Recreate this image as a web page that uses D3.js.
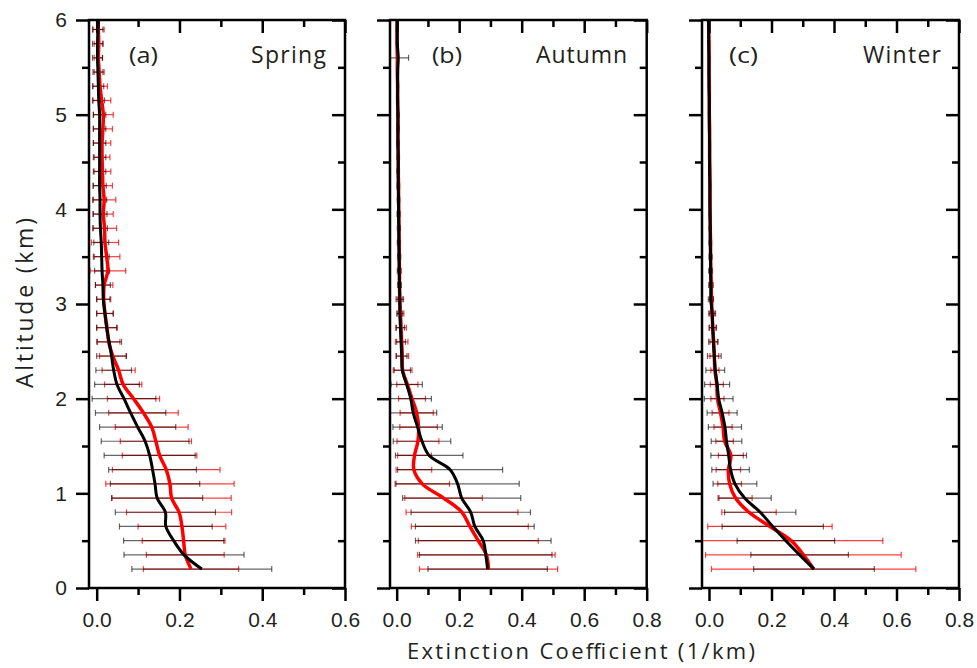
<!DOCTYPE html>
<html>
<head>
<meta charset="utf-8">
<script src="https://cdn.jsdelivr.net/npm/d3@7"></script>
<style>
    html, body { margin: 0; padding: 0; background: #fff; }
    svg { display: block; font-family: "Open Sans", "Liberation Sans", sans-serif; }
</style>
</head>
<body>
<div id="chart"></div>
<script>
// Altitudes (km) des profils ; la dernière valeur (6.0) n'a pas de barre d'erreur
const altitude = [0.20, 0.35, 0.50, 0.65, 0.80, 0.95, 1.10, 1.25, 1.40, 1.55,
    1.70, 1.85, 2.00, 2.15, 2.30, 2.45, 2.60, 2.75, 2.90, 3.05,
    3.20, 3.35, 3.50, 3.65, 3.80, 3.95, 4.10, 4.25, 4.40, 4.55,
    4.70, 4.85, 5.00, 5.15, 5.30, 5.45, 5.60, 5.75, 5.90, 6.00];

// (a) Spring
const springBlack = [0.254, 0.211, 0.186, 0.167, 0.166, 0.146, 0.141, 0.135, 0.128, 0.117,
    0.099, 0.082, 0.066, 0.049, 0.041, 0.036, 0.030, 0.024, 0.020, 0.016,
    0.015, 0.013, 0.012, 0.011, 0.009, 0.008, 0.008, 0.007, 0.007, 0.007,
    0.007, 0.007, 0.007, 0.005, 0.004, 0.003, 0.002, 0.002, 0.003, 0.004];
const springBlackSd = [0.169, 0.145, 0.121, 0.112, 0.121, 0.110, 0.108, 0.106, 0.110, 0.106,
    0.092, 0.085, 0.077, 0.054, 0.043, 0.036, 0.030, 0.024, 0.020, 0.016,
    0.018, 0.018, 0.018, 0.018, 0.017, 0.017, 0.016, 0.016, 0.015, 0.015,
    0.015, 0.015, 0.015, 0.014, 0.013, 0.012, 0.012, 0.012, 0.012, null];
const springRed = [0.228, 0.214, 0.210, 0.206, 0.199, 0.181, 0.177, 0.168, 0.152, 0.143,
    0.133, 0.113, 0.089, 0.064, 0.053, 0.039, 0.029, 0.025, 0.020, 0.017,
    0.018, 0.027, 0.024, 0.020, 0.019, 0.016, 0.018, 0.015, 0.014, 0.013,
    0.013, 0.015, 0.016, 0.012, 0.008, 0.006, 0.004, 0.005, 0.004, 0.004];
const springRedSd = [0.115, 0.094, 0.100, 0.106, 0.127, 0.144, 0.155, 0.130, 0.090, 0.086,
    0.088, 0.084, 0.063, 0.045, 0.040, 0.032, 0.027, 0.025, 0.020, 0.017,
    0.021, 0.043, 0.032, 0.033, 0.029, 0.024, 0.028, 0.023, 0.020, 0.019,
    0.021, 0.023, 0.024, 0.022, 0.018, 0.012, 0.010, 0.011, 0.014, null];

// (b) Autumn
const autumnBlack = [0.291, 0.285, 0.277, 0.250, 0.237, 0.208, 0.195, 0.171, 0.104, 0.081,
    0.067, 0.053, 0.045, 0.032, 0.018, 0.016, 0.014, 0.012, 0.010, 0.010,
    0.009, 0.008, 0.008, 0.007, 0.007, 0.006, 0.006, 0.005, 0.005, 0.005,
    0.004, 0.004, 0.004, 0.003, 0.003, 0.003, 0.005, 0.002, 0.002, 0.002];
const autumnBlackSd = [0.191, 0.212, 0.217, 0.190, 0.191, 0.189, 0.197, 0.168, 0.108, 0.092,
    0.079, 0.075, 0.066, 0.050, 0.026, 0.017, 0.014, 0.013, 0.009, 0.012,
    0.006, 0.006, 0.005, 0.005, 0.005, 0.005, 0.004, 0.004, 0.004, 0.004,
    0.004, 0.004, 0.004, 0.003, 0.003, 0.003, 0.033, 0.003, 0.003, null];
const autumnRed = [0.294, 0.287, 0.261, 0.234, 0.209, 0.150, 0.082, 0.055, 0.057, 0.068,
    0.070, 0.064, 0.049, 0.034, 0.019, 0.018, 0.016, 0.014, 0.012, 0.010,
    0.009, 0.009, 0.008, 0.008, 0.007, 0.007, 0.006, 0.006, 0.005, 0.005,
    0.004, 0.004, 0.004, 0.003, 0.003, 0.002, 0.002, 0.001, 0.001, 0.001];
const autumnRedSd = [0.221, 0.220, 0.192, 0.187, 0.179, 0.124, 0.087, 0.057, 0.054, 0.067,
    0.060, 0.053, 0.043, 0.034, 0.030, 0.020, 0.020, 0.017, 0.011, 0.008,
    0.004, 0.004, 0.004, 0.004, 0.003, 0.003, 0.003, 0.003, 0.003, 0.003,
    0.003, 0.003, 0.002, 0.002, 0.002, 0.002, 0.002, 0.002, 0.002, null];

// (c) Winter
const winterBlack = [0.336, 0.290, 0.246, 0.204, 0.164, 0.114, 0.083, 0.069, 0.063, 0.056,
    0.051, 0.042, 0.031, 0.026, 0.020, 0.017, 0.014, 0.012, 0.010, 0.006,
    0.006, 0.005, 0.005, 0.004, 0.004, 0.003, 0.003, 0.003, 0.002, 0.002,
    0.002, 0.001, 0.001, 0.001, 0.000, 0.000, 0.000, -0.001, -0.001, -0.002];
const winterBlackSd = [0.193, 0.156, 0.156, 0.162, 0.114, 0.085, 0.070, 0.060, 0.057, 0.049,
    0.053, 0.048, 0.046, 0.040, 0.030, 0.022, 0.015, 0.012, 0.011, 0.008,
    0.007, 0.006, 0.005, 0.004, 0.003, 0.002, 0.002, 0.002, 0.002, 0.002,
    0.002, 0.002, 0.002, 0.002, 0.002, 0.002, 0.002, 0.002, 0.002, null];
const winterRed = [0.335, 0.302, 0.263, 0.195, 0.128, 0.085, 0.066, 0.062, 0.070, 0.050,
    0.045, 0.037, 0.027, 0.025, 0.019, 0.017, 0.015, 0.012, 0.010, 0.008,
    0.007, 0.006, 0.005, 0.005, 0.004, 0.004, 0.003, 0.003, 0.003, 0.002,
    0.002, 0.002, 0.001, 0.001, 0.001, 0.000, 0.000, 0.000, -0.001, -0.001];
const winterRedSd = [0.327, 0.313, 0.293, 0.199, 0.087, 0.053, 0.038, 0.039, 0.040, 0.028,
    0.029, 0.027, 0.021, 0.021, 0.013, 0.014, 0.012, 0.010, 0.008, 0.006,
    0.005, 0.004, 0.003, 0.003, 0.003, 0.002, 0.002, 0.002, 0.002, 0.002,
    0.002, 0.002, 0.002, 0.002, 0.002, 0.002, 0.002, 0.002, 0.002, null];

// Graduations
const yTicks = [0, 1, 2, 3, 4, 5, 6];
const yMinorTicks = [0.5, 1.5, 2.5, 3.5, 4.5, 5.5];
const xTicksShort = [0.0, 0.2, 0.4, 0.6];
const xMinorShort = [0.1, 0.3, 0.5];
const xTicksLong = [0.0, 0.2, 0.4, 0.6, 0.8];
const xMinorLong = [0.1, 0.3, 0.5, 0.7];

const tags = ["(a)", "(b)", "(c)"];
const seasons = ["Spring", "Autumn", "Winter"];

const CONFIG = {
    width: 977,
    height: 668,
    top: 20,
    bottom: 588,
    majorTick: 13,
    minorTick: 7,
    textColor: "#231f20"
};

// Mise en page des trois panneaux
const LAYOUT = [
    { left: 89, right: 345, xMin: -0.0186, xMax: 0.6, ticks: xTicksShort, minor: xMinorShort,
      tagX: 129, tagW: 29, seasonEnd: 326, seasonW: 75, yLabels: true },
    { left: 390, right: 646.7, xMin: -0.0214, xMax: 0.8, ticks: xTicksLong, minor: xMinorLong,
      tagX: 432, tagW: 30, seasonEnd: 627, seasonW: 91, yLabels: false },
    { left: 702, right: 959, xMin: -0.0224, xMax: 0.8, ticks: xTicksLong, minor: xMinorLong,
      tagX: 729, tagW: 29, seasonEnd: 941, seasonW: 78, yLabels: false }
];

const SERIES = [
    { black: springBlack, blackSd: springBlackSd, red: springRed, redSd: springRedSd },
    { black: autumnBlack, blackSd: autumnBlackSd, red: autumnRed, redSd: autumnRedSd },
    { black: winterBlack, blackSd: winterBlackSd, red: winterRed, redSd: winterRedSd }
];

const svg = d3.select("#chart").append("svg")
    .attr("width", CONFIG.width)
    .attr("height", CONFIG.height);

const y = d3.scaleLinear().domain([0, 6]).range([CONFIG.bottom, CONFIG.top]);

function styleAxis(g) {
    g.select(".domain").remove();
    g.selectAll(".tick line").attr("stroke", "#000").attr("stroke-width", 2.5);
    g.selectAll(".tick text")
        .attr("fill", CONFIG.textColor)
        .attr("font-size", 21);
}

LAYOUT.forEach((L, i) => {
    const S = SERIES[i];
    const g = svg.append("g");
    const x = d3.scaleLinear().domain([L.xMin, L.xMax]).range([L.left, L.right]);

    // Zone de découpe
    g.append("clipPath").attr("id", "clip-" + i)
        .append("rect")
        .attr("x", L.left).attr("y", CONFIG.top)
        .attr("width", L.right - L.left).attr("height", CONFIG.bottom - CONFIG.top);

    const plot = g.append("g").attr("clip-path", `url(#clip-${i})`);

    // Barres d'erreur (rouge puis noir)
    function errorBars(means, sds, color, opacity) {
        const pts = altitude.map((a, k) => ({ a, m: means[k], s: sds[k] }))
            .filter(d => d.s !== null);
        const eb = plot.append("g")
            .attr("stroke", color)
            .attr("stroke-opacity", opacity)
            .attr("stroke-width", 1.2);
        eb.selectAll("line.bar").data(pts).enter().append("line")
            .attr("class", "bar")
            .attr("x1", d => x(d.m - d.s)).attr("x2", d => x(d.m + d.s))
            .attr("y1", d => y(d.a)).attr("y2", d => y(d.a));
        eb.selectAll("line.capl").data(pts).enter().append("line")
            .attr("class", "capl")
            .attr("x1", d => x(d.m - d.s)).attr("x2", d => x(d.m - d.s))
            .attr("y1", d => y(d.a) - 3).attr("y2", d => y(d.a) + 3);
        eb.selectAll("line.capr").data(pts).enter().append("line")
            .attr("class", "capr")
            .attr("x1", d => x(d.m + d.s)).attr("x2", d => x(d.m + d.s))
            .attr("y1", d => y(d.a) - 3).attr("y2", d => y(d.a) + 3);
    }
    errorBars(S.red, S.redSd, "#ff0000", 0.75);
    errorBars(S.black, S.blackSd, "#000000", 0.6);

    // Profils moyens
    const line = d3.line()
        .x(d => x(d.v))
        .y(d => y(d.a))
        .curve(d3.curveCatmullRom.alpha(0.5));

    plot.append("path")
        .datum(altitude.map((a, k) => ({ a, v: S.red[k] })))
        .attr("d", line)
        .attr("fill", "none")
        .attr("stroke", "#ff0000")
        .attr("stroke-width", 3.5)
        .attr("stroke-linejoin", "round");

    plot.append("path")
        .datum(altitude.map((a, k) => ({ a, v: S.black[k] })))
        .attr("d", line)
        .attr("fill", "none")
        .attr("stroke", "#000")
        .attr("stroke-width", 3)
        .attr("stroke-linejoin", "round");

    // Axe bas (graduations vers l'extérieur)
    g.append("g")
        .attr("transform", `translate(0,${CONFIG.bottom})`)
        .call(d3.axisBottom(x).tickValues(L.ticks).tickSize(CONFIG.majorTick)
            .tickPadding(11).tickFormat(d3.format(".1f")))
        .call(styleAxis);
    g.append("g")
        .attr("transform", `translate(0,${CONFIG.bottom})`)
        .call(d3.axisBottom(x).tickValues(L.minor).tickSize(CONFIG.minorTick).tickFormat(""))
        .call(styleAxis);

    // Axe haut (graduations vers l'intérieur)
    g.append("g")
        .attr("transform", `translate(0,${CONFIG.top})`)
        .call(d3.axisBottom(x).tickValues(L.ticks).tickSize(CONFIG.majorTick).tickFormat(""))
        .call(styleAxis);
    g.append("g")
        .attr("transform", `translate(0,${CONFIG.top})`)
        .call(d3.axisBottom(x).tickValues(L.minor).tickSize(CONFIG.minorTick).tickFormat(""))
        .call(styleAxis);

    // Axe gauche (vers l'extérieur)
    g.append("g")
        .attr("transform", `translate(${L.left},0)`)
        .call(d3.axisLeft(y).tickValues(yTicks).tickSize(CONFIG.majorTick)
            .tickPadding(9).tickFormat(L.yLabels ? d3.format("d") : ""))
        .call(styleAxis);
    g.append("g")
        .attr("transform", `translate(${L.left},0)`)
        .call(d3.axisLeft(y).tickValues(yMinorTicks).tickSize(CONFIG.minorTick).tickFormat(""))
        .call(styleAxis);

    // Axe droit (vers l'intérieur)
    g.append("g")
        .attr("transform", `translate(${L.right},0)`)
        .call(d3.axisLeft(y).tickValues(yTicks).tickSize(CONFIG.majorTick).tickFormat(""))
        .call(styleAxis);
    g.append("g")
        .attr("transform", `translate(${L.right},0)`)
        .call(d3.axisLeft(y).tickValues(yMinorTicks).tickSize(CONFIG.minorTick).tickFormat(""))
        .call(styleAxis);

    // Cadre
    g.append("rect")
        .attr("x", L.left).attr("y", CONFIG.top)
        .attr("width", L.right - L.left).attr("height", CONFIG.bottom - CONFIG.top)
        .attr("fill", "none")
        .attr("stroke", "#000")
        .attr("stroke-width", 2.5);

    // Étiquettes du panneau
    g.append("text")
        .attr("x", L.tagX).attr("y", 63)
        .attr("font-size", 22)
        .attr("fill", CONFIG.textColor)
        .attr("textLength", L.tagW)
        .attr("lengthAdjust", "spacingAndGlyphs")
        .text(tags[i]);
    g.append("text")
        .attr("x", L.seasonEnd - L.seasonW).attr("y", 63)
        .attr("font-size", 23)
        .attr("fill", CONFIG.textColor)
        .attr("textLength", L.seasonW)
        .attr("lengthAdjust", "spacing")
        .text(seasons[i]);
});

// Titres des axes
svg.append("text")
    .attr("x", 407).attr("y", 659)
    .attr("font-size", 22)
    .attr("fill", CONFIG.textColor)
    .attr("textLength", 348)
    .attr("lengthAdjust", "spacing")
    .text("Extinction Coefficient (1/km)");

svg.append("text")
    .attr("transform", "translate(33,388) rotate(-90)")
    .attr("font-size", 23)
    .attr("fill", CONFIG.textColor)
    .attr("textLength", 170)
    .attr("lengthAdjust", "spacing")
    .text("Altitude (km)");
</script>
</body>
</html>
